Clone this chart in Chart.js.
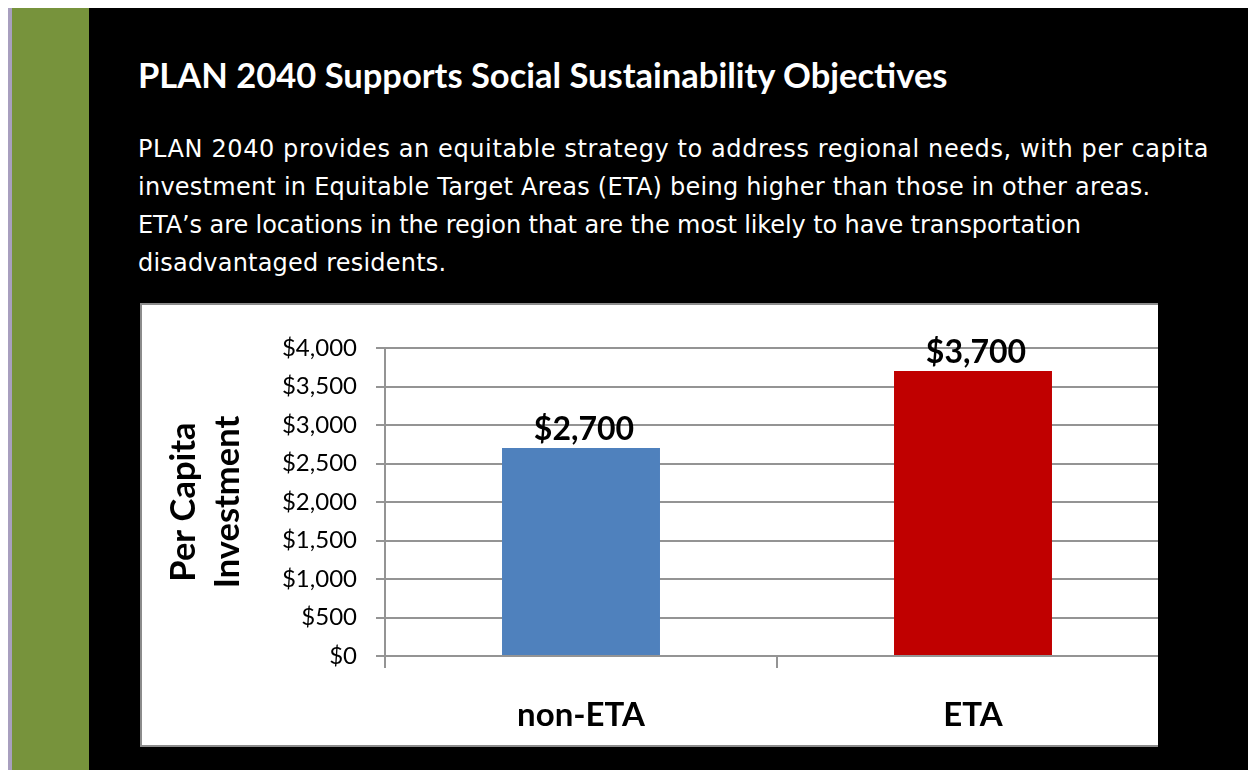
<!DOCTYPE html>
<html>
<head>
<meta charset="utf-8">
<title>PLAN 2040 Per Capita Investment</title>
<script src="https://cdn.jsdelivr.net/npm/chart.js@4.4.0/dist/chart.umd.min.js"></script>
<style>
    html, body {
        margin: 0;
        padding: 0;
    }
    body {
        width: 1248px;
        height: 770px;
        background: #000;
        position: relative;
        overflow: hidden;
    }
    .strip {
        position: absolute;
    }
    #heading {
        position: absolute;
        left: 138px;
        top: 58px;
        margin: 0;
        color: #fff;
        font: bold 34.5px Lato, sans-serif;
        line-height: 34.5px;
        white-space: nowrap;
    }
    #intro {
        position: absolute;
        left: 138px;
        top: 130px;
        margin: 0;
        color: #fff;
        font: 24px "DejaVu Sans", sans-serif;
        line-height: 38px;
        white-space: nowrap;
    }
    #intro span {
        display: block;
    }
    #chartBox {
        position: absolute;
        left: 140px;
        top: 303px;
        width: 1018px;
        height: 444px;
        box-sizing: border-box;
        background: #fff;
        border: 2px solid #8c8c8c;
        border-right: none;
        overflow: hidden;
    }
    #investmentChart {
        position: absolute;
        left: 0;
        top: 0;
    }
</style>
</head>
<body>
<div class="strip" style="left:0;top:0;width:1248px;height:8px;background:#fff"></div>
<div class="strip" style="left:0;top:0;width:8px;height:770px;background:#fff"></div>
<div class="strip" style="left:8px;top:8px;width:4px;height:762px;background:#a89fbf"></div>
<div class="strip" style="left:12px;top:8px;width:77px;height:762px;background:#77933c"></div>

<h1 id="heading">PLAN 2040 Supports Social Sustainability Objectives</h1>
<p id="intro">
    <span style="letter-spacing:0.6px">PLAN 2040 provides an equitable strategy to address regional needs, with per capita</span>
    <span style="letter-spacing:0.25px">investment in Equitable Target Areas (ETA) being higher than those in other areas.</span>
    <span style="letter-spacing:-0.1px">ETA’s are locations in the region that are the most likely to have transportation</span>
    <span style="letter-spacing:0.2px">disadvantaged residents.</span>
</p>

<div id="chartBox">
    <canvas id="investmentChart" width="1048" height="440"></canvas>
</div>

<script>
// Per capita investment by area type
const areas = ['non-ETA', 'ETA'];
const investment = [2700, 3700];
const barColors = ['#4f81bd', '#c00000'];
const axisTitle = ['Per Capita', 'Investment'];

// Axis range
const yMin = 0;
const yMax = 4000;
const yStep = 500;

const gridColor = '#949494';

function money(value) {
    return '$' + value.toLocaleString('en-US');
}

// Draws the dollar amount above each bar
const valueLabels = {
    id: 'valueLabels',
    afterDatasetsDraw(chart) {
        const ctx = chart.ctx;
        ctx.save();
        ctx.font = 'bold 32px Lato, sans-serif';
        ctx.fillStyle = '#000';
        ctx.textAlign = 'center';
        ctx.textBaseline = 'alphabetic';
        chart.getDatasetMeta(0).data.forEach((bar, i) => {
            ctx.fillText(money(investment[i]), bar.x + 3, bar.y - 8);
        });
        ctx.restore();
    }
};

const ctx = document.getElementById('investmentChart').getContext('2d');

new Chart(ctx, {
    type: 'bar',
    data: {
        labels: areas,
        datasets: [{
            data: investment,
            backgroundColor: barColors,
            borderWidth: 0,
            categoryPercentage: 1,
            barPercentage: 0.403
        }]
    },
    options: {
        responsive: false,
        animation: false,
        devicePixelRatio: 1,
        layout: {
            padding: {
                top: 43,
                right: 21,
                bottom: 0,
                left: 0
            }
        },
        plugins: {
            legend: { display: false },
            tooltip: { enabled: false }
        },
        scales: {
            x: {
                afterFit(axis) {
                    axis.height = 89;
                },
                grid: {
                    drawOnChartArea: false,
                    color: gridColor,
                    lineWidth: 2,
                    tickLength: 12
                },
                border: {
                    color: gridColor,
                    width: 2
                },
                ticks: {
                    color: '#000',
                    padding: 28,
                    font: {
                        family: 'Lato',
                        size: 33,
                        weight: 'bold'
                    }
                }
            },
            y: {
                min: yMin,
                max: yMax,
                afterFit(axis) {
                    axis.width = 243;
                },
                title: {
                    display: true,
                    text: axisTitle,
                    color: '#000',
                    padding: { top: 19, bottom: 0 },
                    font: {
                        family: 'Lato',
                        size: 34.5,
                        weight: 'bold',
                        lineHeight: 1.3
                    }
                },
                grid: {
                    color: gridColor,
                    lineWidth: 2,
                    tickLength: 9
                },
                border: {
                    color: gridColor,
                    width: 2
                },
                ticks: {
                    stepSize: yStep,
                    color: '#000',
                    padding: 19,
                    font: {
                        family: 'Lato',
                        size: 24
                    },
                    callback: function(value) {
                        return money(value);
                    }
                }
            }
        }
    },
    plugins: [valueLabels]
});
</script>
</body>
</html>
